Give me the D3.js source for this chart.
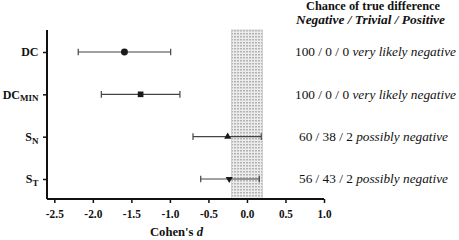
<!DOCTYPE html>
<html><head><meta charset="utf-8">
<script src="https://cdn.jsdelivr.net/npm/d3@7"></script>
<style>body{margin:0;background:#fff}svg{display:block}</style>
</head><body><svg id="c" width="459" height="240"></svg>
<script>
const labels = [["DC",""],["DC","MIN"],["S","N"],["S","T"]];
const means = [-1.59, -1.38, -0.25, -0.23];
const lower = [-2.19, -1.89, -0.70, -0.60];
const upper = [-0.99, -0.87, 0.185, 0.16];
const shapes = ["circle","square","triangle","triangleDown"];
const chances = ["100 / 0 / 0","100 / 0 / 0","60 / 38 / 2","56 / 43 / 2"];
const descriptors = ["very likely negative","very likely negative","possibly negative","possibly negative"];
const trivial = [-0.2, 0.2];
const xTicks = [-2.5,-2.0,-1.5,-1.0,-0.5,0.0,0.5,1.0];

const FONT = '"Liberation Serif","Times New Roman",serif';
const svg = d3.select("#c");
const x = d3.scaleLinear().domain([-2.595, 1.0]).range([47, 324]);
const y = d3.scalePoint().domain(d3.range(labels.length)).range([52, 179]);
const yTop = 30, yBot = 199;

// centred text spread over a given width (the reference type is wide)
function fit(t, cx, cy, width) {
  t.attr("x",cx).attr("y",cy).attr("text-anchor","middle")
   .attr("textLength",width).attr("lengthAdjust","spacingAndGlyphs");
}

const defs = svg.append("defs");
const pat = defs.append("pattern").attr("id","dots").attr("patternUnits","userSpaceOnUse")
  .attr("width",3).attr("height",3);
pat.append("rect").attr("width",3).attr("height",3).attr("fill","#ececec");
pat.append("rect").attr("x",0).attr("y",0).attr("width",2).attr("height",1.5).attr("fill","#b4b4b4");

svg.append("rect").attr("x",x(trivial[0])).attr("y",yTop)
  .attr("width",x(trivial[1])-x(trivial[0])).attr("height",yBot-yTop)
  .attr("fill","url(#dots)").attr("stroke","#c8c8c8").attr("stroke-width",0.8);

// axes
const xAxis = d3.axisBottom(x).tickValues(xTicks).tickFormat(d3.format(".1f")).tickSize(4).tickSizeOuter(0);
const gx = svg.append("g").attr("transform",`translate(0,${yBot})`).call(xAxis);
gx.attr("font-family",null);
gx.select(".domain").attr("stroke","#111").attr("stroke-width",2).attr("d",`M47,0H324`);
gx.selectAll(".tick line").attr("stroke","#111").attr("stroke-width",1.5);
gx.selectAll(".tick text").style("font-family",FONT).attr("font-weight","bold").attr("font-size",12.5)
  .attr("fill","#111").attr("dy","0.95em").text(d => d3.format(".1f")(d).replace("−","-"))
  .attr("textLength", d => d < 0 ? 18 : 14).attr("lengthAdjust","spacingAndGlyphs");

const yAxis = d3.axisLeft(y).tickSize(4).tickFormat("").tickSizeOuter(0);
const gy = svg.append("g").attr("transform","translate(47,0)").call(yAxis);
gy.select(".domain").attr("stroke","#111").attr("stroke-width",2).attr("d",`M0,${yTop}V${yBot}`);
gy.selectAll(".tick line").attr("stroke","#111").attr("stroke-width",1.5);

labels.forEach((l,i) => {
  const t = svg.append("text").attr("x",38.5).attr("y",y(i)).attr("dy","0.35em")
    .attr("text-anchor","end").attr("font-weight","bold").style("font-family",FONT)
    .attr("font-size",12).attr("fill","#111");
  t.append("tspan").text(l[0]);
  if (l[1]) t.append("tspan").attr("font-size",9).attr("dy","0.3em").text(l[1]);
});

const xt = svg.append("text").style("font-family",FONT).attr("font-weight","bold").attr("font-size",12.5).attr("fill","#111")
  .call(t => { t.append("tspan").text("Cohen's "); t.append("tspan").attr("font-style","italic").text("d"); });
fit(xt, 176.5, 236, 53);

// error bars
const g = svg.append("g");
means.forEach((m,i) => {
  const yy = y(i);
  g.append("line").attr("x1",x(lower[i])).attr("x2",x(upper[i])).attr("y1",yy).attr("y2",yy)
    .attr("stroke","#444").attr("stroke-width",1.2);
  [lower[i],upper[i]].forEach(v => g.append("line").attr("x1",x(v)).attr("x2",x(v))
    .attr("y1",yy-3.3).attr("y2",yy+3.3).attr("stroke","#444").attr("stroke-width",1.2));
  const sym = {circle:d3.symbolCircle, square:d3.symbolSquare, triangle:d3.symbolTriangle, triangleDown:d3.symbolTriangle}[shapes[i]];
  const size = {circle:38, square:32, triangle:22, triangleDown:22}[shapes[i]];
  g.append("path").attr("d",d3.symbol(sym,size)())
    .attr("transform",`translate(${x(m)},${yy})` + (shapes[i]==="triangleDown"?" rotate(180)":""))
    .attr("fill","#1a1a1a");
});

// right annotations
const h1 = svg.append("text").style("font-family",FONT).attr("font-weight","bold").attr("font-size",12).attr("fill","#111")
  .text("Chance of true difference");
fit(h1, 373, 10, 134);
const h2 = svg.append("text").style("font-family",FONT).attr("font-weight","bold").attr("font-style","italic").attr("font-size",12).attr("fill","#111")
  .text("Negative / Trivial / Positive");
fit(h2, 370.5, 24, 149);
chances.forEach((c,i) => {
  const t = svg.append("text").style("font-family",FONT).attr("font-size",12.5).attr("fill","#111").attr("dy","0.35em");
  t.append("tspan").text(c + " ");
  t.append("tspan").attr("font-style","italic").text(descriptors[i]);
  fit(t, i < 2 ? 375.5 : 373.5, y(i), i < 2 ? 161 : 149);
});
</script></body></html>
